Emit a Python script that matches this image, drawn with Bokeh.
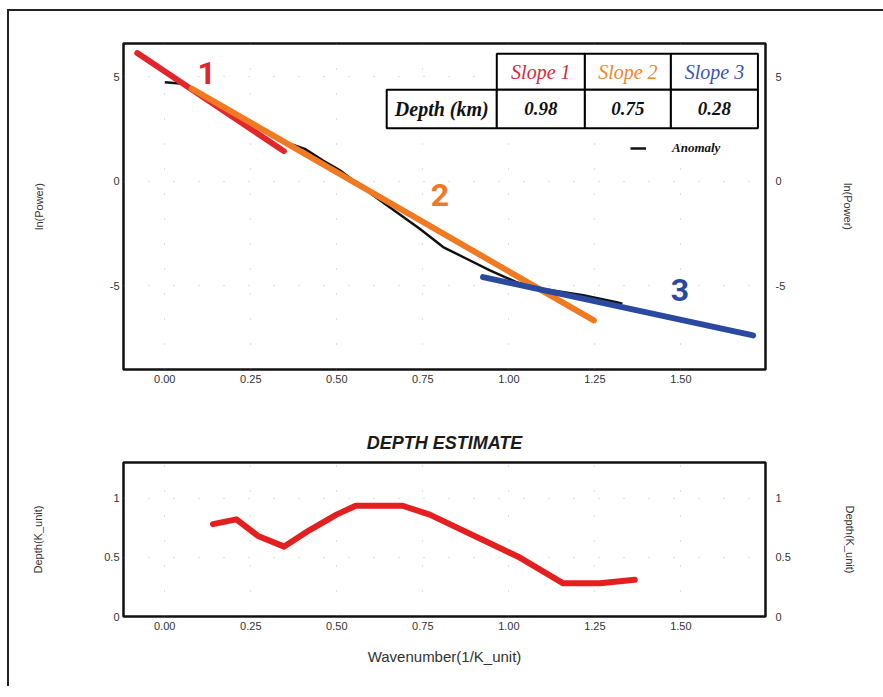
from bokeh.plotting import figure
from bokeh.layouts import column
from bokeh.models import (LinearAxis, FixedTicker, NumeralTickFormatter, Range1d,
                          BoxAnnotation, Label, Legend, LegendItem)
from bokeh.embed import file_html
from bokeh.resources import INLINE

# ---------------- data ----------------
k_ticks = [0.0, 0.25, 0.5, 0.75, 1.0, 1.25, 1.5]
lnp_ticks = [-5, 0, 5]
depth_ticks = [0, 0.5, 1]

anomaly_k = [0.0, 0.044, 0.078, 0.11, 0.16, 0.21, 0.26, 0.31, 0.363, 0.407, 0.46,
             0.509, 0.606, 0.674, 0.741, 0.809, 0.877, 0.945, 1.022, 1.10, 1.216,
             1.313, 1.33]
anomaly_lnp = [4.75, 4.69, 4.45, 4.11, 3.63, 3.15, 2.68, 2.22, 1.80, 1.56, 1.00,
               0.53, -0.67, -1.47, -2.26, -3.14, -3.70, -4.26, -4.82, -5.15, -5.45,
               -5.78, -5.85]

slope1_k = [-0.08, 0.346]
slope1_lnp = [6.14, 1.45]
slope2_k = [0.078, 1.247]
slope2_lnp = [4.44, -6.65]
slope3_k = [0.925, 1.710]
slope3_lnp = [-4.58, -7.37]

depth_k = [0.140, 0.208, 0.271, 0.347, 0.421, 0.499, 0.555, 0.691, 0.77, 1.027,
           1.158, 1.265, 1.366]
depth_val = [0.78, 0.82, 0.68, 0.59, 0.73, 0.86, 0.935, 0.935, 0.86, 0.505,
             0.28, 0.28, 0.31]

slope_names = ["Slope 1", "Slope 2", "Slope 3"]
depth_km = ["0.98", "0.75", "0.28"]
row_label = "Depth (km)"

# ---------------- styles ----------------
C1, C2, C3 = "#e3262b", "#f07a22", "#2a4aa0"
HEAD_COLORS = ["#d8283c", "#f0862e", "#3a55ae"]
TICK_FONT = "Liberation Sans"


def style_axes(p, y_ticks, y_fmt, ylabel, left_standoff, right_standoff):
    p.outline_line_color = "#111111"
    p.outline_line_width = 2.5
    p.xaxis.ticker = FixedTicker(ticks=k_ticks)
    p.xaxis.formatter = NumeralTickFormatter(format="0.00")
    p.yaxis.ticker = FixedTicker(ticks=y_ticks)
    p.yaxis.formatter = NumeralTickFormatter(format=y_fmt)
    p.yaxis.axis_label = ylabel
    p.yaxis.axis_label_standoff = left_standoff
    right = LinearAxis(ticker=FixedTicker(ticks=y_ticks),
                       formatter=NumeralTickFormatter(format=y_fmt),
                       axis_label=ylabel, axis_label_standoff=right_standoff)
    p.add_layout(right, "right")
    for ax in p.axis:
        ax.axis_line_color = None
        ax.major_tick_line_color = None
        ax.minor_tick_line_color = None
        ax.major_tick_out = 0
        ax.major_tick_in = 0
        ax.minor_tick_out = 0
        ax.minor_tick_in = 0
        ax.major_label_standoff = 4
        ax.major_label_text_font = TICK_FONT
        ax.major_label_text_font_size = "11px"
        ax.major_label_text_color = "#333333"
        ax.axis_label_text_font = TICK_FONT
        ax.axis_label_text_font_size = "11px"
        ax.axis_label_text_font_style = "normal"
        ax.axis_label_text_color = "#333333"
    right.major_label_standoff = 10
    p.xaxis.major_label_standoff = 5
    for g in (p.xgrid, p.ygrid):
        g.grid_line_color = "#888888"
        g.grid_line_alpha = 0.55
        g.grid_line_dash = "1 24"
        g.grid_line_width = 1


# ---------------- top plot ----------------
p1 = figure(width=874, height=390, x_range=Range1d(-0.12, 1.746), y_range=Range1d(-9.0, 6.6),
            output_backend="svg", toolbar_location=None,
            min_border_left=114, min_border_right=118, min_border_top=32, min_border_bottom=32)
style_axes(p1, lnp_ticks, "0", "ln(Power)", 62, 54)

r_anom = p1.line(anomaly_k, anomaly_lnp, line_color="#111111", line_width=2.5)
p1.line(slope1_k, slope1_lnp, line_color=C1, line_width=6, line_cap="round")
p1.line(slope2_k, slope2_lnp, line_color=C2, line_width=6, line_cap="round")
p1.line(slope3_k, slope3_lnp, line_color=C3, line_width=6, line_cap="round")

for txt, x, y, c in [("1", 0.122, 5.2, C1), ("2", 0.80, -0.67, C2), ("3", 1.497, -5.2, C3)]:
    p1.add_layout(Label(x=x, y=y, text=txt, text_align="center", text_baseline="middle",
                        text_font="Roboto", text_font_style="bold", text_font_size="32px",
                        text_color=c))

# table
col_edges = [0.645, 0.965, 1.221, 1.471, 1.724]
row_edges = [6.11, 4.39, 2.55]
for i in range(1, 4):
    p1.add_layout(BoxAnnotation(left=col_edges[i], right=col_edges[i + 1],
                                top=row_edges[0], bottom=row_edges[1],
                                fill_color="white", fill_alpha=1, line_color="black",
                                line_width=2, line_alpha=1))
for i in range(4):
    p1.add_layout(BoxAnnotation(left=col_edges[i], right=col_edges[i + 1],
                                top=row_edges[1], bottom=row_edges[2],
                                fill_color="white", fill_alpha=1, line_color="black",
                                line_width=2, line_alpha=1))
ymid_head = (row_edges[0] + row_edges[1]) / 2
ymid_row = (row_edges[1] + row_edges[2]) / 2
for i, (name, dv) in enumerate(zip(slope_names, depth_km)):
    xc = (col_edges[i + 1] + col_edges[i + 2]) / 2
    p1.add_layout(Label(x=xc, y=ymid_head, text=name, text_align="center",
                        text_baseline="middle", text_font="Liberation Serif",
                        text_font_style="italic", text_font_size="20px",
                        text_color=HEAD_COLORS[i]))
    p1.add_layout(Label(x=xc, y=ymid_row, text=dv, text_align="center",
                        text_baseline="middle", text_font="Liberation Serif",
                        text_font_style="bold italic", text_font_size="19px",
                        text_color="#111111"))
p1.add_layout(Label(x=(col_edges[0] + col_edges[1]) / 2, y=ymid_row, text=row_label,
                    text_align="center", text_baseline="middle", text_font="Liberation Serif",
                    text_font_style="bold italic", text_font_size="20px", text_color="#111111"))

legend = Legend(items=[LegendItem(label="Anomaly", renderers=[r_anom])],
                location=(507, 213), padding=0, margin=0, spacing=0,
                glyph_width=16, glyph_height=12, label_height=12, label_standoff=26,
                label_text_font="Liberation Serif", label_text_font_style="bold italic",
                label_text_font_size="13px", label_text_color="#111111",
                border_line_color=None, background_fill_alpha=0)
p1.add_layout(legend)

# ---------------- bottom plot ----------------
p2 = figure(width=874, height=285, x_range=Range1d(-0.12, 1.746), y_range=Range1d(0, 1.3),
            output_backend="svg", toolbar_location=None,
            min_border_left=114, min_border_right=118, min_border_top=61, min_border_bottom=70)
style_axes(p2, depth_ticks, "0.[0]", "Depth(K_unit)", 57, 50)
p2.title.text = "DEPTH ESTIMATE"
p2.title.align = "center"
p2.title.text_font = TICK_FONT
p2.title.text_font_style = "bold italic"
p2.title.text_font_size = "18px"
p2.title.text_color = "#1a1a1a"
p2.title.standoff = 20
p2.xaxis.axis_label = "Wavenumber(1/K_unit)"
p2.xaxis.axis_label_text_font_size = "15px"
p2.xaxis.axis_label_standoff = 15

p2.line(depth_k, depth_val, line_color="#e3201f", line_width=6, line_join="round",
        line_cap="round")

layout = column(p1, p2, margin=(9, 0, 0, 7),
                styles={"border-top": "2px solid #222222",
                        "border-left": "2px solid #222222"})

open("out.html", "w").write(file_html(layout, INLINE))
